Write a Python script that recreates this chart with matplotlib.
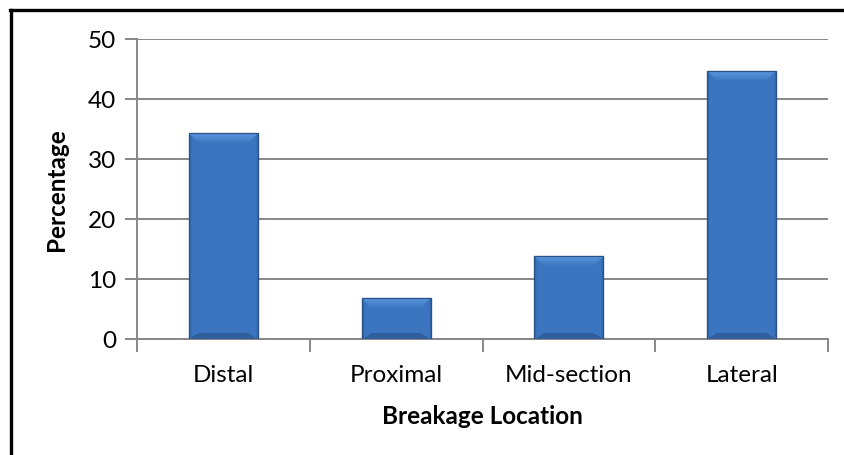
import numpy as np
import matplotlib
matplotlib.use("Agg")
import matplotlib.pyplot as plt
from matplotlib.patches import Polygon
from matplotlib.lines import Line2D
from matplotlib.colors import LinearSegmentedColormap

categories = ["Distal", "Proximal", "Mid-section", "Lateral"]
percentages = [34.3, 6.8, 13.8, 44.7]
y_ticks = [0, 10, 20, 30, 40, 50]

plt.rcParams["font.family"] = ["Lato", "DejaVu Sans"]

W, H = 844, 456
fig = plt.figure(figsize=(W / 100, H / 100), dpi=100)
ax = fig.add_axes([137 / W, (H - 340) / H, (828 - 137) / W, 300 / H])

x = np.arange(len(categories))
bars = ax.bar(x, percentages, width=0.4, color="#3B6FB6", edgecolor="#2B5287",
              linewidth=0.8, zorder=3)

ax.set_xlim(-0.5, len(categories) - 0.5)
ax.set_ylim(0, 50)
ax.set_yticks(y_ticks)
ax.set_xticks(x)
ax.set_xticklabels(categories)
ax.set_xticks(np.arange(-0.5, len(categories)), minor=True)

grid_c = "#878787"
ax.yaxis.grid(True, color=grid_c, linewidth=1.4, zorder=0)
for s in ["top", "right"]:
    ax.spines[s].set_visible(False)
for s in ["left", "bottom"]:
    ax.spines[s].set_color(grid_c)
    ax.spines[s].set_linewidth(1.4)
ax.tick_params(axis="y", length=9, width=1.4, color=grid_c, labelsize=17.5, pad=6)
ax.tick_params(axis="x", which="major", length=0, labelsize=17.5, pad=18)
ax.tick_params(axis="x", which="minor", length=9, width=1.4, color=grid_c)

ax.set_ylabel("Percentage", fontsize=17.5, fontweight="bold", labelpad=14)
ax.set_xlabel("Breakage Location", fontsize=17.5, fontweight="bold", labelpad=14)

# bevelled shading on each bar
side = LinearSegmentedColormap.from_list(
    "side", ["#2E5A96", "#3870BA", "#3D76C0", "#3870BA", "#2E5A96"])
topc = LinearSegmentedColormap.from_list("top", ["#3D76C0", "#5B98DE"])
fig.canvas.draw()
px_x = 1 / (ax.transData.transform((1, 0))[0] - ax.transData.transform((0, 0))[0])
px_y = 1 / (ax.transData.transform((0, 1))[1] - ax.transData.transform((0, 0))[1])
bev_x, bev_y = 10 * px_x, 10 * px_y
for b in bars:
    x0, w, h = b.get_x(), b.get_width(), b.get_height()
    x1 = x0 + w
    grad = np.concatenate([np.linspace(0, 0.5, 12), np.full(176, 0.5),
                           np.linspace(0.5, 1, 12)])[None, :]
    im = ax.imshow(grad, cmap=side, vmin=0, vmax=1, aspect="auto",
                   extent=(x0, x1, 0, h), zorder=3.1, interpolation="bicubic")
    im.set_clip_path(b)
    top = Polygon([(x0, h), (x1, h), (x1 - bev_x, h - bev_y), (x0 + bev_x, h - bev_y)],
                  closed=True, facecolor="none", edgecolor="none", zorder=3.2)
    ax.add_patch(top)
    tim = ax.imshow(np.linspace(0, 1, 50)[:, None], cmap=topc, aspect="auto",
                    origin="lower", extent=(x0, x1, h - bev_y, h), zorder=3.2,
                    interpolation="bicubic")
    tim.set_clip_path(top)
    bottom = Polygon([(x0, 0), (x1, 0), (x1 - bev_x, 0.6 * bev_y), (x0 + bev_x, 0.6 * bev_y)],
                     closed=True, facecolor="#315F9E", edgecolor="none", zorder=3.2)
    ax.add_patch(bottom)
    outline = plt.Rectangle((x0, 0), w, h, facecolor="none", edgecolor="#2B5287",
                            linewidth=0.9, zorder=3.3)
    ax.add_patch(outline)

# chart frame (top and left edges)
fig.add_artist(Line2D([11 / W, 11 / W], [0, 1 - 11 / H], transform=fig.transFigure,
                      color="black", linewidth=2.4))
fig.add_artist(Line2D([10 / W, 1], [1 - 11 / H, 1 - 11 / H], transform=fig.transFigure,
                      color="black", linewidth=2.4))

fig.savefig("out.png", dpi=100, facecolor="white")
